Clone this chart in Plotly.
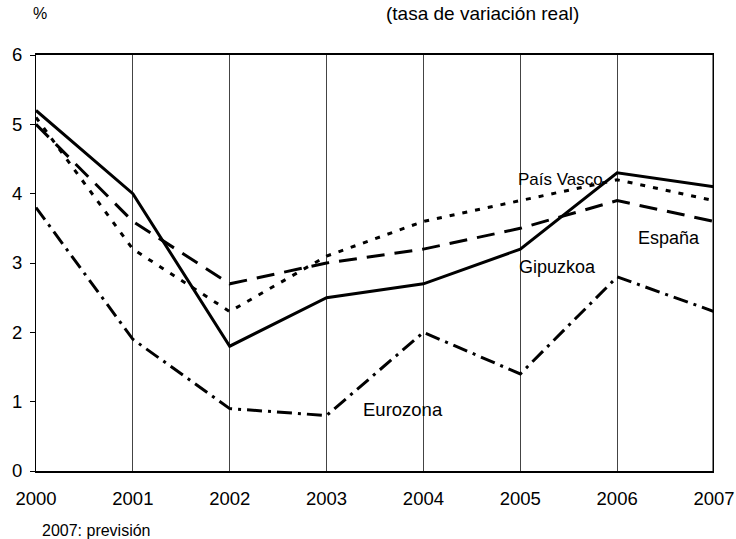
import plotly.graph_objects as go

years = [2000, 2001, 2002, 2003, 2004, 2005, 2006, 2007]
gipuzkoa = [5.2, 4.0, 1.8, 2.5, 2.7, 3.2, 4.3, 4.1]
pais_vasco = [5.1, 3.2, 2.3, 3.1, 3.6, 3.9, 4.2, 3.9]
espana = [5.0, 3.6, 2.7, 3.0, 3.2, 3.5, 3.9, 3.6]
eurozona = [3.8, 1.9, 0.9, 0.8, 2.0, 1.4, 2.8, 2.3]
y_ticks = [0, 1, 2, 3, 4, 5, 6]

fig = go.Figure()
series = [
    ("Eurozona", eurozona, "longdashdot"),
    ("España", espana, "18px,10px"),
    ("País Vasco", pais_vasco, "5px,8px"),
    ("Gipuzkoa", gipuzkoa, "solid"),
]
for name, vals, dash in series:
    fig.add_trace(go.Scatter(x=years, y=vals, mode="lines", name=name,
                             line=dict(color="black", width=3, dash=dash)))

font = "Liberation Sans, Arial, sans-serif"
fig.update_layout(
    width=736, height=539,
    margin=dict(l=36, r=22, t=55, b=68, autoexpand=False),
    plot_bgcolor="white", paper_bgcolor="white",
    showlegend=False,
    font=dict(family=font, size=18, color="black"),
    xaxis=dict(range=[2000, 2007], tickvals=years, showgrid=True,
               gridcolor="#444", gridwidth=1, showline=True, linecolor="black",
               linewidth=2, mirror=True, ticks="", zeroline=False, automargin=False,
               tickfont=dict(size=18.5), ticklabelstandoff=10),
    yaxis=dict(range=[0, 6], tickvals=y_ticks, showgrid=False,
               showline=True, linecolor="black", linewidth=1, mirror=False,
               ticks="outside", ticklen=5, tickcolor="black", zeroline=False,
               automargin=False, tickfont=dict(size=18.5), ticklabelstandoff=4),
)
# right border thicker
fig.add_shape(type="line", xref="x", yref="paper", x0=2007, x1=2007, y0=0, y1=1,
              line=dict(color="black", width=3))
fig.update_layout(annotations=[
    dict(text="%", xref="paper", yref="paper", x=0.006, y=1.0986, xanchor="center",
         yanchor="middle", showarrow=False, font=dict(size=16)),
    dict(text="(tasa de variación real)", xref="paper", yref="paper", x=0.658, y=1.0986,
         xanchor="center", yanchor="middle", showarrow=False, font=dict(size=19)),
    dict(text="País Vasco", x=2005.41, y=4.2, xanchor="center", yanchor="middle",
         showarrow=False, font=dict(size=17)),
    dict(text="España", x=2006.535, y=3.36, xanchor="center", yanchor="middle",
         showarrow=False, font=dict(size=18)),
    dict(text="Gipuzkoa", x=2005.38, y=2.94, xanchor="center", yanchor="middle",
         showarrow=False, font=dict(size=18)),
    dict(text="Eurozona", x=2003.79, y=0.88, xanchor="center", yanchor="middle",
         showarrow=False, font=dict(size=18.5)),
    dict(text="2007: previsión", xref="paper", yref="paper", x=0.006, y=-0.142,
         xanchor="left", yanchor="middle", showarrow=False, font=dict(size=16)),
])

fig.write_html("out.html", config={"displayModeBar": False},
               post_script="document.body.style.margin='0';")
